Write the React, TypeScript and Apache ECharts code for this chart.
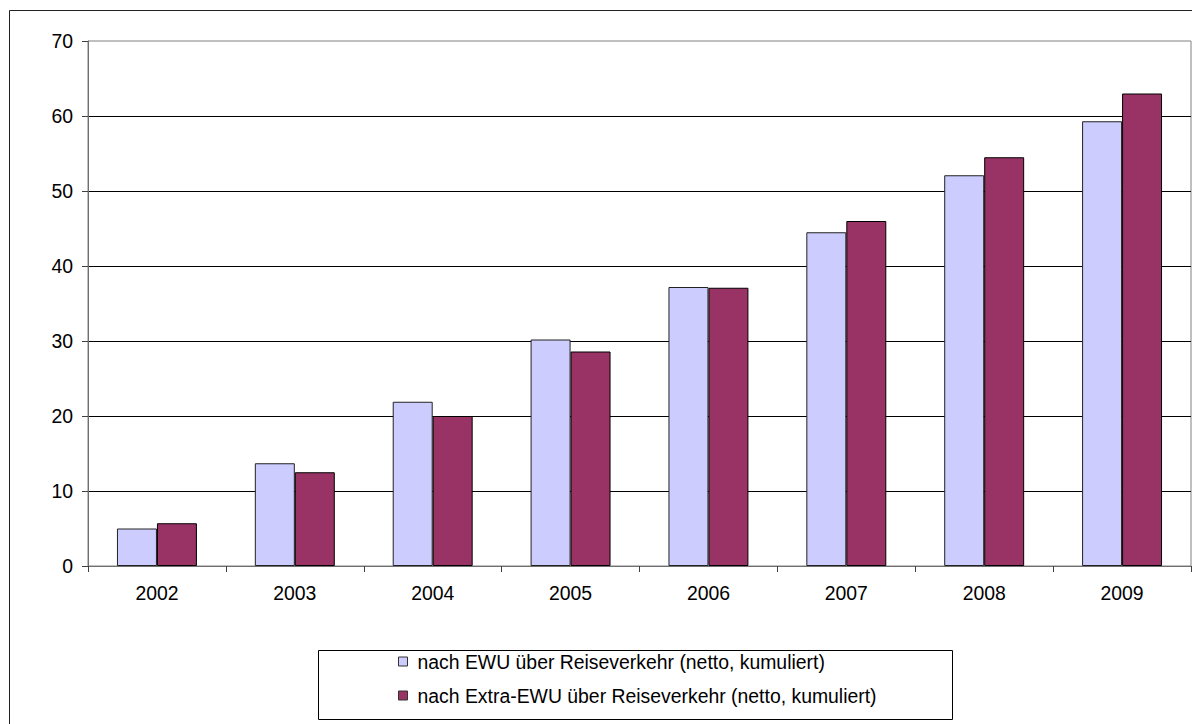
import React, { useEffect, useRef } from "react";
import * as echarts from "echarts";

const categories = ["2002", "2003", "2004", "2005", "2006", "2007", "2008", "2009"];
const ewuValues = [5.0, 13.7, 21.9, 30.2, 37.2, 44.5, 52.1, 59.3];
const extraEwuValues = [5.7, 12.5, 20.0, 28.6, 37.1, 46.0, 54.5, 63.0];
const seriesNames = [
  "nach EWU über Reiseverkehr (netto, kumuliert)",
  "nach Extra-EWU über Reiseverkehr (netto, kumuliert)",
];

const FONT = "'Liberation Sans', Arial, sans-serif";
const FS = 19.4;

export default function App() {
  const ref = useRef<HTMLDivElement>(null);
  useEffect(() => {
    if (!ref.current) return;
    const chart = echarts.init(ref.current, null, { renderer: "svg" });
    chart.setOption({
      animation: false,
      backgroundColor: "#fff",
      textStyle: { fontFamily: FONT },
      grid: {
        left: 88,
        right: 1,
        top: 41,
        bottom: 158,
        show: true,
        borderColor: "#808080",
        borderWidth: 1,
        backgroundColor: "transparent",
      },
      xAxis: {
        type: "category",
        data: categories,
        boundaryGap: true,
        axisLine: { show: true, lineStyle: { color: "#707070", width: 1 } },
        axisTick: { show: true, length: 6, interval: 0, lineStyle: { color: "#404040" } },
        axisLabel: { color: "#000", fontSize: FS, fontFamily: FONT, margin: 17, interval: 0 },
        splitLine: { show: false },
      },
      yAxis: {
        type: "value",
        min: 0,
        max: 70,
        interval: 10,
        axisLine: { show: true, lineStyle: { color: "#707070", width: 1 } },
        axisTick: { show: true, length: 6, lineStyle: { color: "#404040" } },
        axisLabel: { color: "#000", fontSize: FS, fontFamily: FONT, margin: 15 },
        splitLine: { show: true, showMaxLine: false, lineStyle: { color: "#000", width: 1 } },
      },
      legend: {
        orient: "vertical",
        left: 398,
        top: 652,
        padding: 0,
        itemGap: 15,
        itemWidth: 19,
        itemHeight: 9,
        selectedMode: false,
        icon: "path://M0,0H10V10H0Z",
        itemStyle: { borderColor: "#333", borderWidth: 1 },
        textStyle: { color: "#000", fontSize: FS, fontFamily: FONT },
        data: seriesNames,
      },
      graphic: [
        {
          type: "rect",
          silent: true,
          z: -1,
          shape: { x: 9.5, y: 10.5, width: 2000, height: 2000 },
          style: { fill: "none", stroke: "#222", lineWidth: 1 },
        },
        {
          type: "rect",
          silent: true,
          z: 0,
          shape: { x: 318.5, y: 650.5, width: 634, height: 69 },
          style: { fill: "#fff", stroke: "#000", lineWidth: 1 },
        },
      ],
      series: [
        {
          name: seriesNames[0],
          type: "bar",
          data: ewuValues,
          barGap: "0%",
          barCategoryGap: "42%",
          itemStyle: { color: "#CCCCFF", borderColor: "#222", borderWidth: 1 },
        },
        {
          name: seriesNames[1],
          type: "bar",
          data: extraEwuValues,
          barGap: "0%",
          barCategoryGap: "42%",
          itemStyle: { color: "#993366", borderColor: "#000", borderWidth: 1 },
        },
      ],
    });
    return () => chart.dispose();
  }, []);
  return (
    <div
      ref={ref}
      style={{ position: "absolute", left: 0, top: 0, width: 1192, height: 724 }}
    />
  );
}
